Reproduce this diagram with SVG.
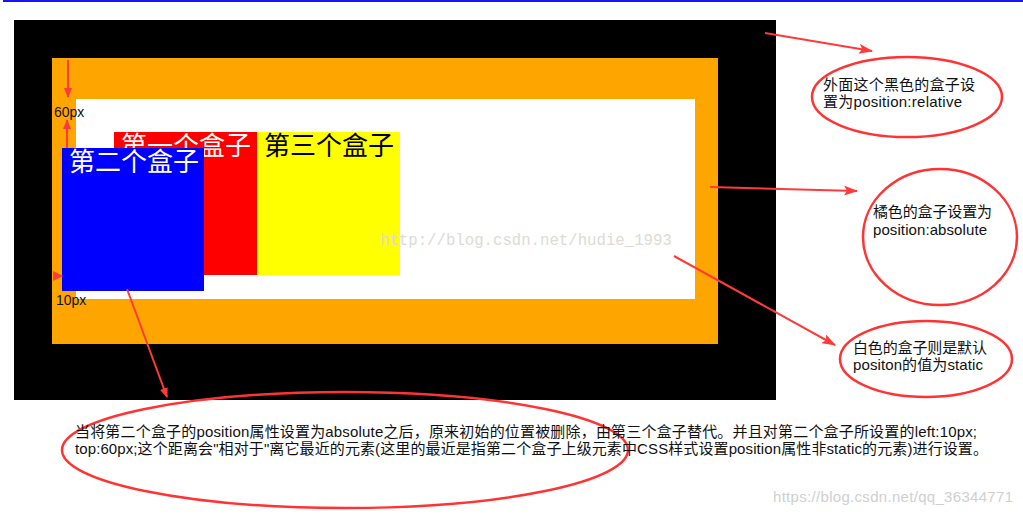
<svg xmlns="http://www.w3.org/2000/svg" width="1023" height="516" viewBox="0 0 1023 516">
<style>
.lbl{font-family:"Noto Sans CJK SC",sans-serif;font-size:26px}
.note{font-family:"Liberation Sans","Noto Sans CJK SC",sans-serif;font-size:15px;fill:#111}
.ell{fill:none;stroke:#ff3333;stroke-width:2.5}
.conn{stroke:#ff3a3a;stroke-width:2;fill:none}
.small{font-family:"Liberation Sans","Noto Sans CJK SC",sans-serif;font-size:14px;fill:#111}
</style>
<defs>
<marker id="ah" markerWidth="14" markerHeight="10" refX="13" refY="5" orient="auto" markerUnits="userSpaceOnUse">
<path d="M0,0 L14,5 L0,10 L3,5 Z" fill="#ff3a3a"/>
</marker>
<marker id="ahs" markerWidth="10" markerHeight="8" refX="9" refY="4" orient="auto" markerUnits="userSpaceOnUse">
<path d="M0,0 L10,4 L0,8 Z" fill="#ff3a3a"/>
</marker>
</defs>
<rect x="0" y="0" width="1023" height="516" fill="#fff"/>
<rect x="3" y="0" width="1020" height="2" fill="#1414ff"/>
<g id="black-box"><rect x="14" y="20" width="762" height="380" fill="#000"/></g>
<g id="orange-box"><rect x="52" y="58" width="666" height="286" fill="#ffa500"/></g>
<g id="white-box"><rect x="76" y="99" width="619" height="200" fill="#fff"/></g>
<g id="red-box"><rect x="114" y="132" width="143" height="143" fill="#ff0000"/><text class="lbl" x="121" y="155" fill="#fff">第一个盒子</text></g>
<g id="yellow-box"><rect x="257" y="132" width="143" height="143" fill="#ffff00"/><text class="lbl" x="264" y="155" fill="#000">第三个盒子</text></g>
<g id="blue-box"><rect x="62" y="148" width="142" height="143" fill="#0000ff"/><text class="lbl" x="69" y="171" fill="#fff">第二个盒子</text></g>
<text x="380" y="245" font-family="Liberation Mono,monospace" font-size="15.7" fill="#dcdcd4">http://blog.csdn.net/hudie_1993</text>
<g id="dims">
<text class="small" x="54" y="117">60px</text>
<text class="small" x="56" y="305">10px</text>
</g>
<g id="connectors">
<line class="conn" x1="68" y1="60" x2="68" y2="97" marker-end="url(#ahs)"/>
<line class="conn" x1="67" y1="148" x2="67" y2="120" marker-end="url(#ahs)"/>
<path d="M53,271 L63,276 L53,281 Z" fill="#ff3a3a"/>
<line class="conn" x1="765" y1="33" x2="872" y2="51" marker-end="url(#ah)"/>
<line class="conn" x1="710" y1="187" x2="857" y2="191" marker-end="url(#ah)"/>
<line class="conn" x1="674" y1="256" x2="835" y2="345" marker-end="url(#ah)"/>
<line class="conn" x1="127" y1="289" x2="167" y2="397" marker-end="url(#ahs)"/>
</g>
<g id="note-relative">
<ellipse class="ell" cx="907" cy="97" rx="95" ry="40"/>
<text class="note" x="823" y="90" textLength="152">外面这个黑色的盒子设</text>
<text class="note" x="823" y="107" textLength="139">置为position:relative</text>
</g>
<g id="note-absolute">
<ellipse class="ell" cx="940" cy="237" rx="77" ry="68"/>
<text class="note" x="873" y="217" textLength="119">橘色的盒子设置为</text>
<text class="note" x="873" y="235" textLength="114">position:absolute</text>
</g>
<g id="note-static">
<ellipse class="ell" cx="926" cy="359" rx="86" ry="38"/>
<text class="note" x="853" y="353" textLength="134">白色的盒子则是默认</text>
<text class="note" x="853" y="370" textLength="130">positon的值为static</text>
</g>
<g id="note-main">
<ellipse class="ell" cx="345" cy="450" rx="283" ry="58"/>
<text class="note" x="75" y="437" textLength="902">当将第二个盒子的position属性设置为absolute之后，原来初始的位置被删除，由第三个盒子替代。并且对第二个盒子所设置的left:10px;</text>
<text class="note" x="75" y="454" textLength="913">top:60px;这个距离会"相对于"离它最近的元素(这里的最近是指第二个盒子上级元素中CSS样式设置position属性非static的元素)进行设置。</text>
</g>
<text x="773" y="502" font-family="Liberation Sans,sans-serif" font-size="15" fill="#d0d0d0" textLength="240">https://blog.csdn.net/qq_36344771</text>
</svg>
